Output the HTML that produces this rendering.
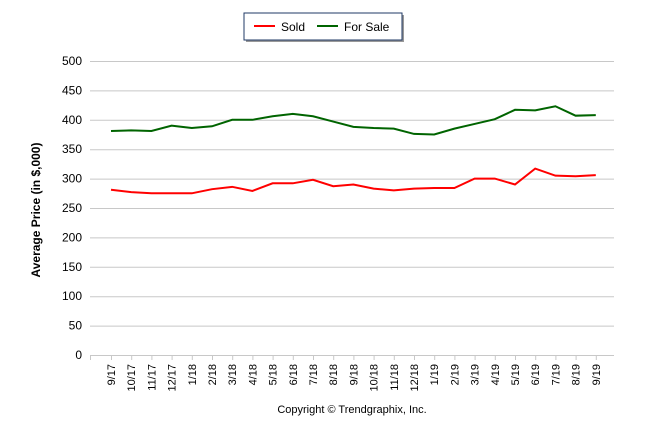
<!DOCTYPE html><html><head><style>body{margin:0;background:#fff}svg{font-family:"Liberation Sans",sans-serif}</style></head><body>
<svg width="646" height="434" xmlns="http://www.w3.org/2000/svg">
<rect x="246" y="15" width="158" height="27" fill="#999"/>
<rect x="244" y="13" width="158" height="27" fill="#fff" stroke="#1f3864" stroke-width="1"/>
<line x1="254" y1="26" x2="275" y2="26" stroke="#f00" stroke-width="2"/>
<text x="281" y="31" font-size="12">Sold</text>
<line x1="317" y1="26" x2="338" y2="26" stroke="#006400" stroke-width="2"/>
<text x="344" y="31" font-size="12">For Sale</text>
<g id="grid" stroke="#c8c8c8" stroke-width="1"></g>
<g id="yl" font-size="12" text-anchor="end"></g>
<g id="xl" font-size="11"></g>
<polyline id="fs" fill="none" stroke="#006400" stroke-width="2"/>
<polyline id="sd" fill="none" stroke="#f00" stroke-width="2"/>
<text transform="translate(40,210) rotate(-90)" font-size="12" font-weight="bold" text-anchor="middle">Average Price (in $,000)</text>
<text x="352" y="413" font-size="11" text-anchor="middle">Copyright © Trendgraphix, Inc.</text>
</svg>
<script>
const ns="http://www.w3.org/2000/svg";
const Y=v=>355-v*0.588;
const X=i=>111+i*20.2;
const g=document.getElementById('grid'),yl=document.getElementById('yl'),xl=document.getElementById('xl');
function el(t,a,p,txt){const e=document.createElementNS(ns,t);for(const k in a)e.setAttribute(k,a[k]);if(txt)e.textContent=txt;p.appendChild(e);}
for(let v=0;v<=500;v+=50){el('line',{x1:90,x2:614,y1:Y(v)+.5,y2:Y(v)+.5},g);el('text',{x:82,y:Y(v)+4},yl,String(v));}
const labs=["9/17","10/17","11/17","12/17","1/18","2/18","3/18","4/18","5/18","6/18","7/18","8/18","9/18","10/18","11/18","12/18","1/19","2/19","3/19","4/19","5/19","6/19","7/19","8/19","9/19"];
el('line',{x1:90.5,x2:90.5,y1:355,y2:360},g);
labs.forEach((l,i)=>{el('line',{x1:X(i)+.5,x2:X(i)+.5,y1:355,y2:360},g);el('text',{transform:`translate(${X(i)+4},364) rotate(-90)`,'text-anchor':'end'},xl,l);});
const fs=[381,382,381,390,386,389,400,400,406,410,406,397,388,386,385,376,375,385,393,401,417,416,423,407,408];
const sd=[281,277,275,275,275,282,286,279,292,292,298,287,290,283,280,283,284,284,300,300,290,317,305,304,306];
document.getElementById('fs').setAttribute('points',fs.map((v,i)=>X(i)+','+Y(v)).join(' '));
document.getElementById('sd').setAttribute('points',sd.map((v,i)=>X(i)+','+Y(v)).join(' '));
</script>
</body></html>
